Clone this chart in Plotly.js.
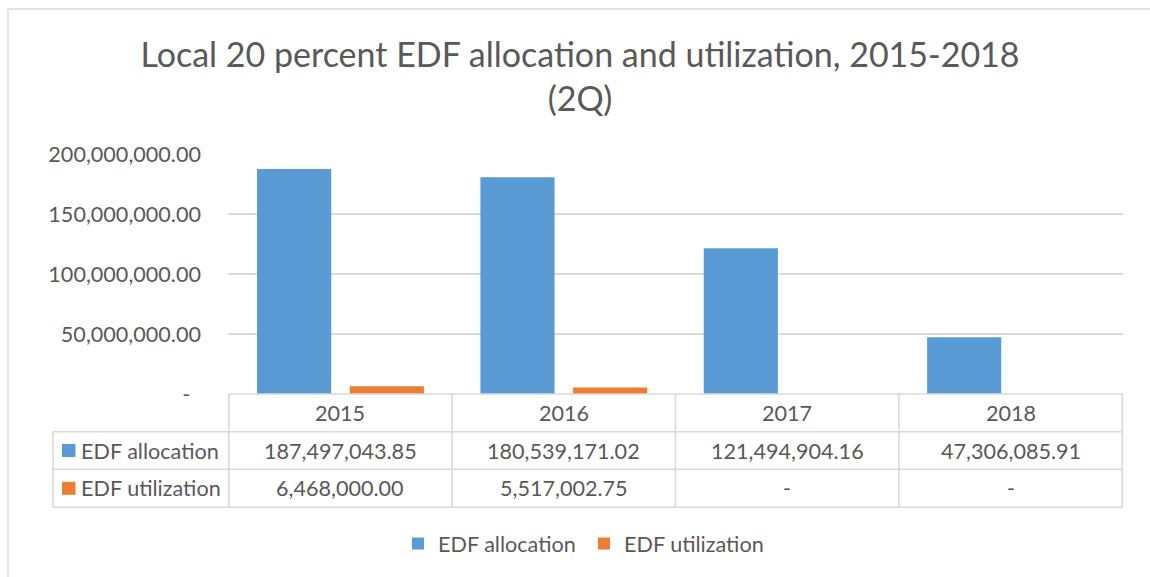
<!DOCTYPE html>
<html>
<head>
<meta charset="utf-8">
<script src="https://cdn.plot.ly/plotly-3.0.1.min.js"></script>
<style>html,body{margin:0;padding:0;background:#fff;}#chart{width:1150px;height:577px;}</style>
</head>
<body>
<div id="chart"></div>
<script>
// ---- data ----
const years = ['2015', '2016', '2017', '2018'];
const seriesNames = ['EDF allocation', 'EDF utilization'];
const allocation = [187497043.85, 180539171.02, 121494904.16, 47306085.91];
const utilization = [6468000.00, 5517002.75, 0, 0];
const yTickVals = [0, 50000000, 100000000, 150000000, 200000000];
const yTickText = ['-', '50,000,000.00', '100,000,000.00', '150,000,000.00', '200,000,000.00'];
const titleText = 'Local 20 percent EDF allocation and utilization, 2015-2018<br>(2Q)';

// ---- style ----
const colors = ['#5B9BD5', '#ED7D31'];
const textColor = '#595959';
const lineColor = '#D9D9D9';
const FONT = 'Lato, "Open Sans", sans-serif';
const FS = 21.6;

// plot area in pixels
const L = 228, R = 1123, T = 154, B = 394;
const W = R - L, H = B - T;
const fx = px => (px - L) / W;
const fy = py => (B - py) / H;

function fmt(v) {
  if (!v) return '-';
  return v.toLocaleString('en-US', {minimumFractionDigits: 2, maximumFractionDigits: 2});
}

const traces = [
  {type: 'bar', name: seriesNames[0], x: years, y: allocation, marker: {color: colors[0]}, hoverinfo: 'none'},
  {type: 'bar', name: seriesNames[1], x: years, y: utilization, marker: {color: colors[1]}, hoverinfo: 'none'}
];

// table geometry (pixels)
const rowLines = [394, 431.7, 469.3, 507.3];
const rowCenters = [413, 450.5, 488.3];
const labelLeft = 53;

const shapes = [];
const annotations = [];
// outer chart border
shapes.push({type: 'rect', xref: 'paper', yref: 'paper', x0: fx(8), x1: fx(1200), y0: fy(9), y1: fy(640),
  line: {color: lineColor, width: 1.3}, fillcolor: 'rgba(0,0,0,0)', layer: 'below'});
// horizontal table lines
shapes.push({type: 'line', xref: 'paper', yref: 'paper', x0: 0, x1: 1, y0: fy(rowLines[0]), y1: fy(rowLines[0]), line: {color: lineColor, width: 1.6}});
for (let i = 1; i < rowLines.length; i++) {
  shapes.push({type: 'line', xref: 'paper', yref: 'paper', x0: fx(labelLeft), x1: 1, y0: fy(rowLines[i]), y1: fy(rowLines[i]), line: {color: lineColor, width: 1.6}});
}
// vertical table lines at category boundaries
for (let i = 0; i <= years.length; i++) {
  shapes.push({type: 'line', xref: 'x', yref: 'paper', x0: i - 0.5, x1: i - 0.5, y0: fy(rowLines[0]), y1: fy(rowLines[3]), line: {color: lineColor, width: 1.6}});
}
shapes.push({type: 'line', xref: 'paper', yref: 'paper', x0: fx(labelLeft), x1: fx(labelLeft), y0: fy(rowLines[1]), y1: fy(rowLines[3]), line: {color: lineColor, width: 1.6}});

// header row: years
years.forEach((yr, i) => {
  annotations.push({xref: 'x', yref: 'paper', x: i, y: fy(rowCenters[0]), text: yr, showarrow: false,
    xanchor: 'center', yanchor: 'middle', font: {family: FONT, size: FS, color: textColor}});
});
// series rows
const seriesVals = [allocation, utilization];
seriesVals.forEach((vals, s) => {
  const yc = rowCenters[s + 1];
  // legend key square
  shapes.push({type: 'rect', xref: 'paper', yref: 'paper', x0: fx(62), x1: fx(75.5), y0: fy(yc - 6.5), y1: fy(yc + 6.5),
    line: {width: 0}, fillcolor: colors[s]});
  annotations.push({xref: 'paper', yref: 'paper', x: fx(79), y: fy(yc), text: seriesNames[s], showarrow: false,
    xanchor: 'left', yanchor: 'middle', font: {family: FONT, size: FS, color: textColor}});
  vals.forEach((v, i) => {
    annotations.push({xref: 'x', yref: 'paper', x: i, y: fy(yc), text: fmt(v), showarrow: false,
      xanchor: 'center', yanchor: 'middle', font: {family: FONT, size: FS, color: textColor}});
  });
});

const layout = {
  width: 1150, height: 577,
  margin: {l: L, r: 1150 - R, t: T, b: 577 - B, pad: 0},
  paper_bgcolor: '#ffffff', plot_bgcolor: '#ffffff',
  font: {family: FONT, color: textColor},
  title: {text: titleText, x: 580 / 1150, xanchor: 'center', xref: 'container',
    y: 1 - 67 / 577, yanchor: 'top', yref: 'container',
    font: {family: FONT, size: 34, color: textColor}},
  barmode: 'group', bargap: 0.17, bargroupgap: 0.2,
  xaxis: {type: 'category', showticklabels: false, ticks: '', showgrid: false, zeroline: false, showline: false, fixedrange: true},
  yaxis: {range: [0, 200000000], tickvals: yTickVals,
    ticktext: yTickText.map(t => t === '-' ? '-\u2002' : t), ticks: '', showline: false, zeroline: false,
    gridcolor: lineColor, gridwidth: 1.5, ticklabelstandoff: 26,
    tickfont: {family: FONT, size: FS, color: textColor}, fixedrange: true},
  showlegend: true,
  legend: {orientation: 'h', x: fx(398), xanchor: 'left', y: fy(544), yanchor: 'middle', entrywidth: 141,
    font: {family: FONT, size: FS, color: textColor}, bgcolor: 'rgba(0,0,0,0)', traceorder: 'normal'},
  shapes: shapes,
  annotations: annotations
};

Plotly.newPlot('chart', traces, layout, {displayModeBar: false, staticPlot: true});
</script>
</body>
</html>
